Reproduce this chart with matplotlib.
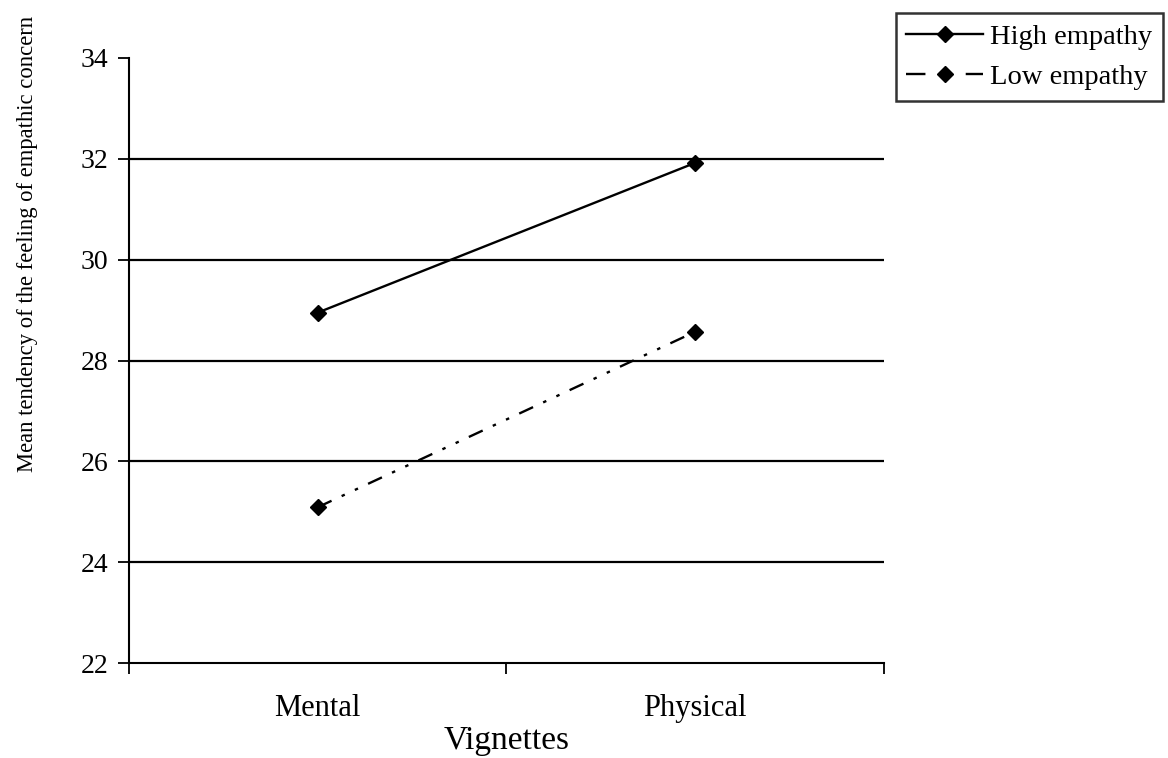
import matplotlib
matplotlib.use("Agg")
import matplotlib.pyplot as plt
from matplotlib.lines import Line2D

plt.rcParams['font.family'] = ['Liberation Serif', 'DejaVu Serif']
plt.rcParams['lines.scale_dashes'] = False

# data
vignettes = ["Mental", "Physical"]
high_empathy = [28.95, 31.92]
low_empathy = [25.09, 28.57]
y_ticks = [22, 24, 26, 28, 30, 32, 34]

fig = plt.figure(figsize=(11.68, 7.58), dpi=100)
ax = fig.add_axes([0.1104, 0.1253, 0.6464, 0.7982])

x = list(range(len(vignettes)))

# horizontal grid lines
for yv in y_ticks[1:-1]:
    ax.axhline(yv, color="black", lw=1.6, zorder=1)

ax.plot(x, high_empathy, color="black", lw=1.7, marker="D", ms=8, zorder=3)
ax.plot(x, low_empathy, color="black", lw=1.7, marker="D", ms=8,
        linestyle=(0, (11, 8, 2.5, 8, 2.5, 8)), zorder=3)

ax.set_xlim(-0.5, len(vignettes) - 0.5)
ax.set_ylim(22, 34)
ax.set_yticks(y_ticks)

ax.set_xticks(x)
ax.set_xticklabels(vignettes)
ax.set_xticks([i - 0.5 for i in range(len(vignettes) + 1)], minor=True)
ax.tick_params(axis="x", which="major", length=0, pad=22, labelsize=22)
ax.tick_params(axis="x", which="minor", length=8, width=1.3, direction="out")
ax.tick_params(axis="y", length=8, width=1.3, pad=7, labelsize=20)

for s in ["top", "right"]:
    ax.spines[s].set_visible(False)
for s in ["left", "bottom"]:
    ax.spines[s].set_linewidth(1.5)

ax.set_xlabel("Vignettes", fontsize=24)
ax.xaxis.set_label_coords(0.5, -0.103)
ax.set_ylabel("Mean tendency of the feeling of empathic concern", fontsize=16.3)
ax.yaxis.set_label_coords(-0.121, 0.692)

handles = [
    Line2D([], [], color="black", lw=1.7, marker="D", ms=8),
    Line2D([], [], color="black", lw=1.7, marker="D", ms=8, linestyle=(0, (14, 29))),
]
leg = fig.legend(handles, ["High empathy", "Low empathy"], loc="upper right",
                 bbox_to_anchor=(0.996, 0.983), fontsize=20.5, frameon=True,
                 fancybox=False, handlelength=2.7, handletextpad=0.25,
                 borderpad=0.38, labelspacing=0.52, borderaxespad=0)
leg.get_frame().set_edgecolor("black")
leg.get_frame().set_linewidth(1.8)

fig.savefig("out.png", dpi=100)
